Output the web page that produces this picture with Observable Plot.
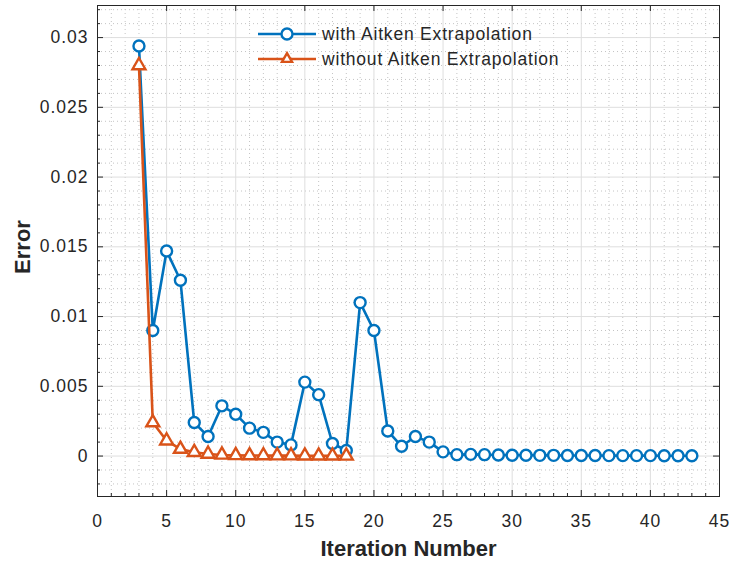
<!DOCTYPE html>
<html>
<head>
<meta charset="utf-8">
<script src="https://cdn.jsdelivr.net/npm/d3@7"></script>
<script src="https://cdn.jsdelivr.net/npm/@observablehq/plot@0.6"></script>
<style>
  html, body { margin: 0; padding: 0; background: #fff; }
  #wrap { position: relative; width: 733px; height: 562px; font-family: "Liberation Sans", Arial, sans-serif; }
  #legend { position: absolute; left: 0; top: 0; pointer-events: none; }
  .tick-text text { letter-spacing: 1px; }
</style>
</head>
<body>
<div id="wrap"></div>
<script>
// ---- data ----
const iterWith = [3,4,5,6,7,8,9,10,11,12,13,14,15,16,17,18,19,20,21,22,23,24,25,26,27,28,29,30,31,32,33,34,35,36,37,38,39,40,41,42,43];
const errWith = [0.0294,0.0090,0.0147,0.0126,0.0024,0.0014,0.0036,0.0030,0.0020,0.0017,0.0010,0.0008,0.0053,0.0044,0.0009,0.0004,0.0110,0.0090,0.0018,0.0007,0.0014,0.0010,0.0003,0.00010,0.00012,0.00010,0.00008,0.00006,0.00006,0.00005,0.00005,0.00004,0.00004,0.00004,0.00003,0.00003,0.00003,0.00003,0.00002,0.00002,0.00002];
const iterWithout = [3,4,5,6,7,8,9,10,11,12,13,14,15,16,17,18];
const errWithout = [0.0280,0.0024,0.0011,0.0005,0.00027,0.00015,0.00008,0.00005,0.00004,0.00004,0.00003,0.00003,0.00002,0.00002,0.00002,0.00001];
const seriesNames = ["with Aitken Extrapolation", "without Aitken Extrapolation"];
const xTicks = [0,5,10,15,20,25,30,35,40,45];
const yTicks = [0,0.005,0.01,0.015,0.02,0.025,0.03];
const xMinor = [1,2,3,4,6,7,8,9,11,12,13,14,16,17,18,19,21,22,23,24,26,27,28,29,31,32,33,34,36,37,38,39,41,42,43,44];
const yMinor = [-0.002,-0.001,0.001,0.002,0.003,0.004,0.006,0.007,0.008,0.009,0.011,0.012,0.013,0.014,0.016,0.017,0.018,0.019,0.021,0.022,0.023,0.024,0.026,0.027,0.028,0.029,0.031,0.032];
const xLabel = "Iteration Number";
const yLabel = "Error";

const blue = "#0072BD", orange = "#D95319";
const withData = iterWith.map((x, i) => ({x, y: errWith[i]}));
const withoutData = iterWithout.map((x, i) => ({x, y: errWithout[i]}));

const W = 733, H = 562, mL = 97, mR = 14, mT = 5, mB = 66;
const innerH = H - mT - mB, innerW = W - mL - mR;
const rCircle = 5.5, rTri = 4.8;

const chart = Plot.plot({
  width: W, height: H,
  marginLeft: mL, marginRight: mR, marginTop: mT, marginBottom: mB,
  style: {fontFamily: "'Liberation Sans', Arial, sans-serif", color: "#262626", background: "#fff"},
  x: {domain: [0, 45]},
  y: {domain: [-0.0029, 0.0323]},
  marks: [
    // minor grid (dotted)
    Plot.ruleX(xMinor, {x: d => d, stroke: "#c4c4c4", strokeDasharray: "1,3", strokeWidth: 1}),
    Plot.ruleY(yMinor, {y: d => d, stroke: "#c4c4c4", strokeDasharray: "1,3", strokeWidth: 1}),
    // major grid
    Plot.ruleX(xTicks, {x: d => d, stroke: "#dedede", strokeWidth: 1}),
    Plot.ruleY(yTicks, {y: d => d, stroke: "#dedede", strokeWidth: 1}),
    // inward ticks
    Plot.ruleX(xTicks, {x: d => d, insetTop: innerH - 6, stroke: "#262626"}),
    Plot.ruleX(xTicks, {x: d => d, insetBottom: innerH - 6, stroke: "#262626"}),
    Plot.ruleX(xMinor, {x: d => d, insetTop: innerH - 3, stroke: "#262626"}),
    Plot.ruleY(yTicks, {y: d => d, insetRight: innerW - 6, stroke: "#262626"}),
    Plot.ruleY(yTicks, {y: d => d, insetLeft: innerW - 6, stroke: "#262626"}),
    Plot.ruleY(yMinor, {y: d => d, insetRight: innerW - 3, stroke: "#262626"}),
    Plot.frame({stroke: "#262626", strokeWidth: 1}),
    // axes
    Plot.axisX({ticks: xTicks, tickSize: 0, tickPadding: 18, fontSize: 17.5, label: null, className: "tick-text"}),
    Plot.axisY({ticks: yTicks, tickSize: 0, tickPadding: 9, fontSize: 17.5, label: null, className: "tick-text", tickFormat: d => String(d)}),
    Plot.text([xLabel], {text: d => d, frameAnchor: "bottom", lineAnchor: "middle", textAnchor: "middle", dy: 52, fontSize: 22, fontWeight: "bold", fill: "#262626"}),
    Plot.text([yLabel], {text: d => d, frameAnchor: "left", lineAnchor: "middle", textAnchor: "middle", dx: -75, dy: -4, rotate: -90, fontSize: 22, fontWeight: "bold", fill: "#262626"}),
    // series
    Plot.line(withData, {x: "x", y: "y", stroke: blue, strokeWidth: 2.6}),
    Plot.dot(withData, {x: "x", y: "y", r: rCircle, symbol: "circle", stroke: blue, fill: "white", strokeWidth: 2.4}),
    Plot.line(withoutData, {x: "x", y: "y", stroke: orange, strokeWidth: 2.6}),
    Plot.dot(withoutData, {x: "x", y: "y", r: rTri, symbol: "triangle", stroke: orange, fill: "white", strokeWidth: 2.4})
  ]
});

const wrap = document.getElementById("wrap");
wrap.appendChild(chart);

// legend overlay (no box, as in the reference)
const ns = "http://www.w3.org/2000/svg";
const leg = document.createElementNS(ns, "svg");
leg.setAttribute("id", "legend");
leg.setAttribute("width", W);
leg.setAttribute("height", 90);
const rows = [
  {name: seriesNames[0], color: blue, sym: "circle", y: 34},
  {name: seriesNames[1], color: orange, sym: "triangle", y: 59}
];
rows.forEach(r => {
  const ln = document.createElementNS(ns, "line");
  ln.setAttribute("x1", 258); ln.setAttribute("x2", 316);
  ln.setAttribute("y1", r.y); ln.setAttribute("y2", r.y);
  ln.setAttribute("stroke", r.color); ln.setAttribute("stroke-width", 2.6);
  leg.appendChild(ln);
  const p = document.createElementNS(ns, "path");
  if (r.sym === "circle") {
    p.setAttribute("d", d3.symbol(d3.symbolCircle, Math.PI * rCircle * rCircle)());
  } else {
    p.setAttribute("d", d3.symbol(d3.symbolTriangle2, Math.PI * rTri * rTri)());
  }
  p.setAttribute("transform", `translate(287,${r.y})`);
  p.setAttribute("fill", "white"); p.setAttribute("stroke", r.color); p.setAttribute("stroke-width", 2.4);
  leg.appendChild(p);
  const t = document.createElementNS(ns, "text");
  t.setAttribute("x", 322); t.setAttribute("y", r.y);
  t.setAttribute("dy", "0.35em");
  t.setAttribute("font-size", 17.5);
  t.setAttribute("letter-spacing", "0.8");
  t.setAttribute("fill", "#262626");
  t.setAttribute("font-family", "'Liberation Sans', Arial, sans-serif");
  t.textContent = r.name;
  leg.appendChild(t);
});
wrap.appendChild(leg);
</script>
</body>
</html>
